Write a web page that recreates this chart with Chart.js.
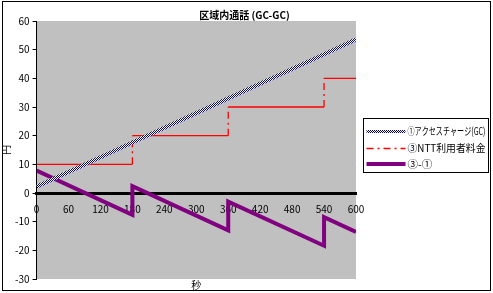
<!DOCTYPE html>
<html>
<head>
<meta charset="utf-8">
<script src="https://cdn.jsdelivr.net/npm/chart.js"></script>
<style>
html,body{margin:0;padding:0;background:#fff;}
</style>
</head>
<body>
<canvas id="chart" width="493" height="293"></canvas>
<script>
// 秒
const seconds = [0, 180, 180, 360, 360, 540, 540, 600];
// ①アクセスチャージ(GC)
const accessCharge = [2.2, 17.6, 17.6, 33.0, 33.0, 48.4, 48.4, 53.6];
// ③NTT利用者料金
const nttCharge = [10, 10, 20, 20, 30, 30, 40, 40];
// ③-①
const difference = [7.8, -7.6, 2.4, -13.0, -3.0, -18.4, -8.4, -13.6];

const seriesNames = ["①アクセスチャージ(GC)", "③NTT利用者料金", "③-①"];
const xTicks = [0, 60, 120, 180, 240, 300, 360, 420, 480, 540, 600];
const yTicks = [-30, -20, -10, 0, 10, 20, 30, 40, 50, 60];

function points(ys){
  return seconds.map((s,i)=>({x:s, y:ys[i]}));
}

// navy/white checker pattern for series 1
function checker(){
  let c=document.createElement("canvas");
  c.width=2; c.height=2;
  let g=c.getContext("2d");
  g.fillStyle="#ffffff"; g.fillRect(0,0,2,2);
  g.fillStyle="#000080"; g.fillRect(0,0,1,1); g.fillRect(1,1,1,1);
  return g.createPattern(c,"repeat");
}

const fontFamily = "'Noto Sans CJK JP', 'DejaVu Sans', sans-serif";
const font = {family:fontFamily, size:10};

const frame = {
  id:"frame",
  beforeDraw(chart){
    let ctx=chart.ctx, a=chart.chartArea;
    ctx.save();
    ctx.fillStyle="#ffffff";
    ctx.fillRect(0,0,chart.width,chart.height);
    ctx.fillStyle="#c0c0c0";
    ctx.fillRect(a.left,a.top,a.right-a.left,a.bottom-a.top);
    ctx.restore();
  },
  afterDraw(chart){
    let ctx=chart.ctx, a=chart.chartArea;
    ctx.save();
    ctx.strokeStyle="#000";
    ctx.lineWidth=1;
    ctx.strokeRect(2.5,1.5,488,289);
    // legend box
    let bx=Math.round(a.right)+7.5, by=118.5, bw=125, bh=54;
    ctx.fillStyle="#fff";
    ctx.fillRect(bx,by,bw,bh);
    ctx.strokeRect(bx,by,bw,bh);
    ctx.font="10.5px "+fontFamily;
    ctx.textBaseline="middle";
    ctx.textAlign="left";
    chart.data.datasets.forEach((ds,i)=>{
      let y=by+12.5+i*16.5;
      ctx.save();
      ctx.strokeStyle=ds.borderColor;
      ctx.lineWidth=i===0 ? 3 : ds.borderWidth;
      ctx.setLineDash(ds.borderDash||[]);
      ctx.beginPath();
      ctx.moveTo(bx+3,Math.round(y)+(ctx.lineWidth%2?0.5:0));
      ctx.lineTo(bx+42,Math.round(y)+(ctx.lineWidth%2?0.5:0));
      ctx.stroke();
      ctx.restore();
      ctx.fillStyle="#000";
      ctx.fillText(ds.label,bx+44,y+0.5,bw-47);
    });
    ctx.restore();
  }
};

new Chart(document.getElementById("chart"), {
  type:"line",
  data:{
    datasets:[{
      label:seriesNames[0],
      data:points(accessCharge),
      borderColor:checker(),
      borderWidth:4,
      pointRadius:0
    },{
      label:seriesNames[1],
      data:points(nttCharge),
      borderColor:"#ff0000",
      borderWidth:1.3,
      borderDash:[7,4,2,4],
      pointRadius:0,
      segment:{
        borderDash: ctx => ctx.p0.parsed.x === ctx.p1.parsed.x ? [7,4,2,4] : []
      }
    },{
      label:seriesNames[2],
      data:points(difference),
      borderColor:"#800080",
      borderWidth:4,
      pointRadius:0
    }]
  },
  options:{
    responsive:false,
    devicePixelRatio:1,
    animation:false,
    layout:{padding:{left:0,right:4,top:0,bottom:2}},
    plugins:{
      title:{display:true, text:"区域内通話 (GC-GC)", color:"#000", font:font, padding:{top:9,bottom:0}},
      legend:{display:false},
      tooltip:{enabled:false}
    },
    scales:{
      x:{
        type:"linear",
        min:0, max:600,
        position:{y:0},
        afterBuildTicks: s => { s.ticks = xTicks.map(v=>({value:v})); },
        ticks:{color:"#000", font:font, padding:2, maxRotation:0},
        grid:{display:false},
        border:{color:"#000", width:3}
      },
      x2:{
        type:"linear",
        position:"bottom",
        ticks:{display:false},
        grid:{display:false, drawTicks:false},
        border:{display:false},
        title:{display:true, text:"秒", color:"#000", font:font, padding:0}
      },
      y:{
        min:-30, max:60,
        afterBuildTicks: s => { s.ticks = yTicks.map(v=>({value:v})); },
        ticks:{color:"#000", font:font, padding:3},
        grid:{drawOnChartArea:false, color:"#000", tickLength:4},
        border:{color:"#000", width:1},
        title:{display:true, text:"円", color:"#000", font:font, padding:0}
      },
      // empty right axis that only reserves room for the legend box
      y2:{
        position:"right",
        ticks:{display:false},
        grid:{display:false, drawTicks:false},
        border:{display:false},
        afterFit: s => { s.width = 133; }
      }
    }
  },
  plugins:[frame]
});
</script>
</body>
</html>
